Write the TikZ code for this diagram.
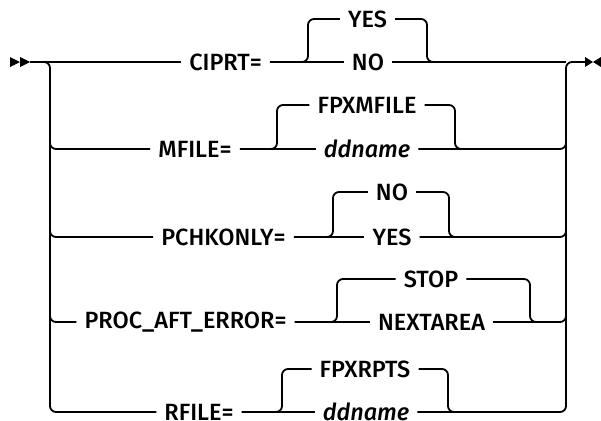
\documentclass[tikz,border=0pt]{standalone}
\usepackage{fontspec}
\setmainfont{Fira Sans Medium}[ItalicFont={Fira Sans Medium Italic}]
\begin{document}
\begin{tikzpicture}[x=1pt,y=-1pt,
  rail/.style={line width=1.8pt, rounded corners=6pt},
  lbl/.style={inner xsep=8pt, inner ysep=2pt, font=\fontsize{23.5}{27}\selectfont},
  tip/.style={fill=black, draw=none}]
\useasboundingbox (0,0) rectangle (601,420);
% start and end markers
\coordinate (start) at (30,62);
\coordinate (stop) at (585,62);
\fill[tip] (10,57) -- (20,62) -- (10,67) -- cycle;
\fill[tip] (20,57) -- (30,62) -- (20,67) -- cycle;
\fill[tip] (585,57) -- (593,62) -- (585,67) -- cycle;
\fill[tip] (601,57) -- (593,62) -- (601,67) -- cycle;
% left and right rails
\coordinate (L1) at (50,62);  \coordinate (R1) at (566,62);
\coordinate (L2) at (50,149); \coordinate (R2) at (566,149);
\coordinate (L3) at (50,237); \coordinate (R3) at (566,237);
\coordinate (L4) at (50,322); \coordinate (R4) at (566,322);
\coordinate (L5) at (50,412); \coordinate (R5) at (566,412);
% nodes
\node[lbl] (ciprt) at (225.5,62) {CIPRT=};
\node[lbl] (yes1) at (367.5,19) {YES};
\node[lbl] (no1) at (368,62) {NO};
\node[lbl] (mfile) at (195,149) {MFILE=};
\node[lbl] (fpxm) at (367,105) {FPXMFILE};
\node[lbl] (dd2) at (367,149) {\itshape ddname};
\node[lbl] (pchk) at (223.5,237) {PCHKONLY=};
\node[lbl] (no3) at (392,192) {NO};
\node[lbl] (yes3) at (392,237) {YES};
\node[lbl] (proc) at (185.5,322) {PROC\_AFT\_ERROR=};
\node[lbl] (stopv) at (431,279) {STOP};
\node[lbl] (next) at (431.5,322) {NEXTAREA};
\node[lbl] (rfile) at (199,412) {RFILE=};
\node[lbl] (fpxr) at (365,369) {FPXRPTS};
\node[lbl] (dd5) at (366,412) {\itshape ddname};
% main rails
\draw[rail] (start) -- (ciprt.west);
\draw[rail] (start) -- (L1) -- (L5) -- (rfile.west);
\draw[rail] (50,110) -- (L2) -- (mfile.west);
\draw[rail] (50,200) -- (L3) -- (pchk.west);
\draw[rail] (50,290) -- (L4) -- (proc.west);
\draw[rail] (dd5.east) -- (R5) -- (R1) -- (stop);
\draw[rail] (dd2.east) -- (R2) -- (566,110);
\draw[rail] (yes3.east) -- (R3) -- (566,200);
\draw[rail] (next.east) -- (R4) -- (566,290);
% row 1
\draw[rail] (ciprt.east) -- (no1.west);
\draw[rail] (no1.east) -- (R1);
\draw[rail] (ciprt.east) -- (308,62) |- (yes1.west);
\draw[rail] (yes1.east) -| (427,62) -- (460,62);
% row 2
\draw[rail] (mfile.east) -- (dd2.west);
\draw[rail] (mfile.east) -- (277,149) |- (fpxm.west);
\draw[rail] (fpxm.east) -| (455,149) -- (490,149);
% row 3
\draw[rail] (pchk.east) -- (yes3.west);
\draw[rail] (pchk.east) -- (333,237) |- (no3.west);
\draw[rail] (no3.east) -| (449,237) -- (490,237);
% row 4
\draw[rail] (proc.east) -- (next.west);
\draw[rail] (proc.east) -- (337,322) |- (stopv.west);
\draw[rail] (stopv.east) -| (530,322) -- (550,322);
% row 5
\draw[rail] (rfile.east) -- (dd5.west);
\draw[rail] (rfile.east) -- (282,412) |- (fpxr.west);
\draw[rail] (fpxr.east) -| (448,412) -- (490,412);
\end{tikzpicture}
\end{document}
